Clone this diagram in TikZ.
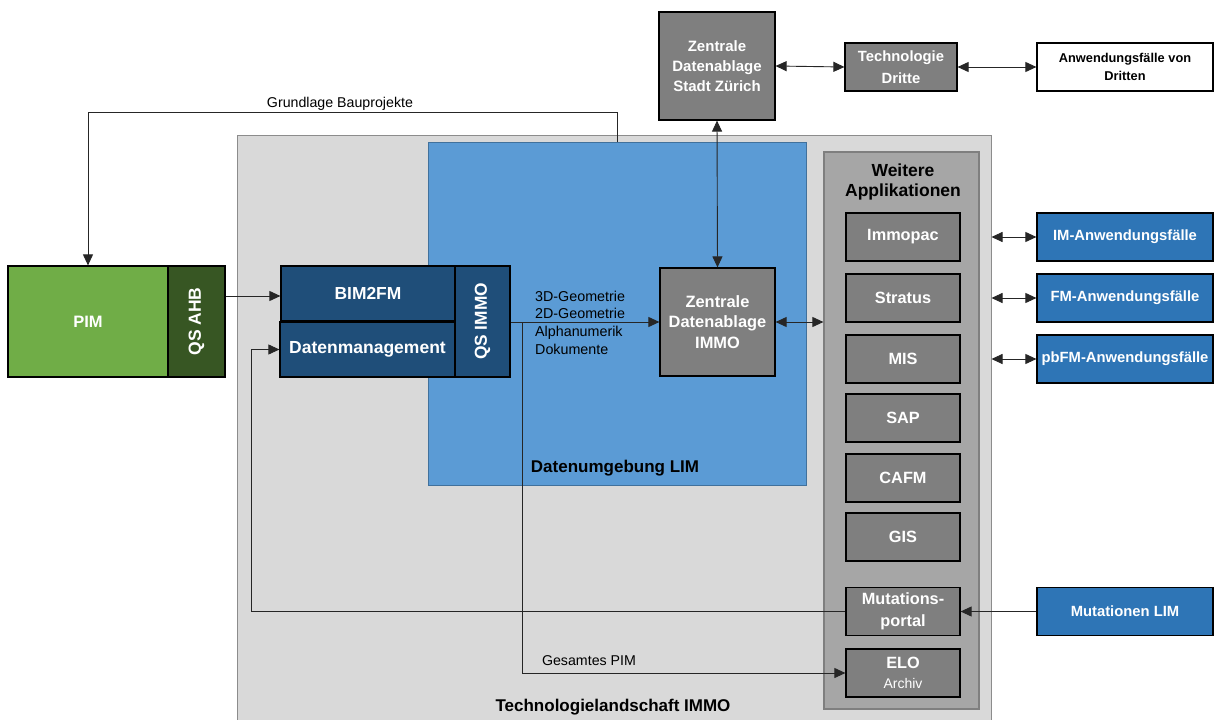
\documentclass[tikz,border=0pt]{standalone}
\usepackage{fontspec}
\setmainfont{Liberation Sans}
\usetikzlibrary{arrows.meta}
\definecolor{landfill}{HTML}{D9D9D9}
\definecolor{landdraw}{HTML}{8C8C8C}
\definecolor{limfill}{HTML}{5B9BD5}
\definecolor{limdraw}{HTML}{41719C}
\definecolor{wafill}{HTML}{A6A6A6}
\definecolor{wadraw}{HTML}{7F7F7F}
\definecolor{grayfill}{HTML}{7F7F7F}
\definecolor{bluefill}{HTML}{2E75B6}
\definecolor{darkblue}{HTML}{1F4E79}
\definecolor{pimgreen}{HTML}{70AD47}
\definecolor{darkgreen}{HTML}{375623}
\definecolor{linecol}{HTML}{262626}
\newcommand{\fs}[1]{\fontsize{#1}{\dimexpr #1pt*6/5\relax}\selectfont}
\tikzset{
  box/.style={draw=black, line width=1.2pt, inner sep=0pt, align=center, text=white, font=\bfseries},
  graybox/.style={box, fill=grayfill},
  bluebox/.style={box, fill=bluefill},
  dbbox/.style={box, fill=darkblue},
  conn/.style={draw=linecol, line width=0.9pt},
  tipa/.tip={Triangle[length=11pt,width=10pt]},
  arr/.style={conn, -tipa},
  dbl/.style={conn, tipa-tipa},
  lbl/.style={inner sep=0pt, align=left, text=black}
}
\begin{document}
\begin{tikzpicture}[x=1pt,y=-1pt]
\useasboundingbox (0,0) rectangle (1218,720);
\fill[white] (0,0) rectangle (1218,720);
% containers
\node[draw=landdraw, fill=landfill, line width=1pt, minimum width=754pt, minimum height=590pt, inner sep=0pt] (land) at (614,430) {};
\node[font=\bfseries\fs{17}, inner sep=0pt] (landlbl) at (613,707) {Technologielandschaft IMMO};
\node[draw=limdraw, fill=limfill, line width=1pt, minimum width=378pt, minimum height=343pt, inner sep=0pt] (lim) at (617,313.5) {};
\node[font=\bfseries\fs{17}, inner sep=0pt] (limlbl) at (615,468) {Datenumgebung LIM};
\node[draw=wadraw, fill=wafill, line width=1.2pt, minimum width=155pt, minimum height=557pt, inner sep=0pt] (wa) at (901.5,430.5) {};
\node[font=\bfseries\fs{17.5}, inner sep=0pt, align=center, text=black] (walbl) at (903,182) {Weitere\\[-1pt]Applikationen};
% apps
\node[graybox, font=\bfseries\fs{16.3}, minimum width=114pt, minimum height=48pt] (immopac) at (903,237) {Immopac};
\node[graybox, font=\bfseries\fs{16.3}, minimum width=114pt, minimum height=48pt] (stratus) at (903,298) {Stratus};
\node[graybox, font=\bfseries\fs{16.3}, minimum width=114pt, minimum height=48pt] (mis) at (903,359) {MIS};
\node[graybox, font=\bfseries\fs{16.3}, minimum width=114pt, minimum height=48pt] (sap) at (903,418) {SAP};
\node[graybox, font=\bfseries\fs{16.3}, minimum width=114pt, minimum height=48pt] (cafm) at (903,478) {CAFM};
\node[graybox, font=\bfseries\fs{16.3}, minimum width=114pt, minimum height=48pt] (gis) at (903,537) {GIS};
\node[graybox, font=\bfseries\fs{16.3}, minimum width=114pt, minimum height=48pt] (mut) at (903,611.5) {Mutations-\\[2pt]portal};
\node[graybox, font=\bfseries\fs{16.3}, minimum width=114pt, minimum height=48pt] (elo) at (903,673) {ELO\\{\mdseries\fs{14}Archiv}};
% right blue
\node[bluebox, font=\bfseries\fs{14.8}, minimum width=176pt, minimum height=48pt] (im) at (1125,237) {IM-Anwendungsfälle};
\node[bluebox, font=\bfseries\fs{14.8}, minimum width=176pt, minimum height=48pt] (fm) at (1125,298) {FM-Anwendungsfälle};
\node[bluebox, font=\bfseries\fs{14.8}, minimum width=176pt, minimum height=48pt] (pbfm) at (1125,359) {pbFM-Anwendungsfälle};
\node[bluebox, font=\bfseries\fs{14.8}, minimum width=176pt, minimum height=48pt] (mutlim) at (1125,611.5) {Mutationen LIM};
% top
\node[graybox, font=\bfseries\fs{15}, minimum width=116pt, minimum height=108pt] (zsz) at (717,66) {Zentrale\\[2pt]Datenablage\\[2pt]Stadt Zürich};
\node[graybox, font=\bfseries\fs{14.8}, minimum width=112pt, minimum height=48pt] (tech) at (901,67) {Technologie\\[4pt]Dritte};
\node[box, fill=white, text=black, font=\bfseries\fs{12.8}, minimum width=176pt, minimum height=48pt] (dritte) at (1125,67) {Anwendungsfälle von\\[2.5pt]Dritten};
% immo
\node[graybox, font=\bfseries\fs{16.4}, minimum width=115pt, minimum height=108pt] (immo) at (717.5,322) {Zentrale\\[1pt]Datenablage\\[1pt]IMMO};
% PIM
\node[box, fill=pimgreen, font=\bfseries\fs{16.5}, minimum width=160pt, minimum height=111pt] (pim) at (88,321.5) {PIM};
\node[box, fill=darkgreen, minimum width=57pt, minimum height=111pt] (qsahb) at (196.5,321.5) {\rotatebox{90}{\bfseries\fs{17.5}QS AHB}};
% left blue
\node[dbbox, font=\bfseries\fs{17.4}, minimum width=174pt, minimum height=55pt] (bim) at (368,293.5) {BIM2FM};
\node[dbbox, font=\bfseries\fs{17.5}, minimum width=175pt, minimum height=55pt] (dm) at (367.5,349.5) {Datenmanagement};
\node[dbbox, minimum width=55pt, minimum height=111pt] (qsimmo) at (482.5,321.5) {\rotatebox{90}{\bfseries\fs{17.3}QS IMMO}};
% labels
\node[lbl, anchor=north west, font=\fs{14.3}, align=left] (datalbl) at (535,290.5) {3D-Geometrie\\[0.5pt]2D-Geometrie\\[0.5pt]Alphanumerik\\[0.5pt]Dokumente};
\node[lbl, font=\fs{14.2}] (gpim) at (589,661) {Gesamtes PIM};
\node[lbl, font=\fs{14.2}] (gbau) at (340,104) {Grundlage Bauprojekte};
% coordinates
\coordinate (g0) at (617,142);
\coordinate (g1) at (617,112);
\coordinate (split) at (522,322);
\coordinate (mL) at (251,611.5);
% connectors
\draw[dbl] (zsz.east) -- (tech.west);
\draw[dbl] (tech.east) -- (dritte.west);
\draw[dbl] (zsz.south) -- (immo.north);
\draw[dbl] (immo.east) -- (wa.west |- immo.east);
\draw[dbl] (land.east |- im.west) -- (im.west);
\draw[dbl] (land.east |- fm.west) -- (fm.west);
\draw[dbl] (land.east |- pbfm.west) -- (pbfm.west);
\draw[arr] (mutlim.west) -- (mut.east);
\draw[arr] (mut.west) -- (mL) |- (dm.west);
\draw[arr] (qsahb.east |- 0,296) -- (bim.west |- 0,296);
\draw[arr] (qsimmo.east |- immo.west) -- (immo.west);
\draw[arr] (split) |- (elo.west);
\draw[arr] (g0) -- (g1) -| (pim.north);
\end{tikzpicture}
\end{document}
